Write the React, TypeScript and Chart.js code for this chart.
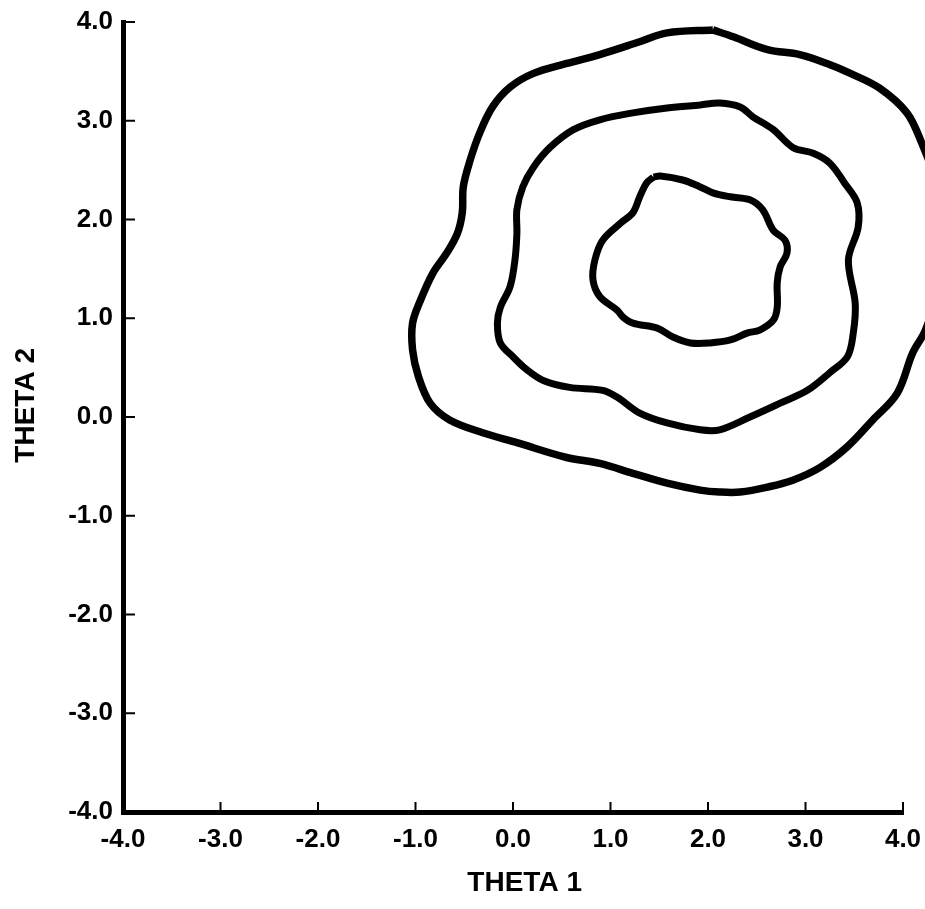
import React, { useEffect, useRef } from "react";
import { Chart, registerables } from "chart.js";

Chart.register(...registerables);

// Axis tick values
const xTicks = [-4, -3, -2, -1, 0, 1, 2, 3, 4];
const yTicks = [-4, -3, -2, -1, 0, 1, 2, 3, 4];
const xTitle = "   THETA 1";
const yTitle = "   THETA 2";

// Outer contour (THETA 1, THETA 2)
const outerX = [2.05, 2.26, 2.61, 2.94, 3.22, 3.46, 3.76, 4.04, 4.19, 4.33, 4.41, 4.39, 4.23, 4.10, 3.94, 3.69, 3.43, 3.15, 2.87, 2.61, 2.33, 2.12, 1.92, 1.58, 1.23, 0.89, 0.55, 0.04, -0.31, -0.65, -0.85, -0.97, -1.03, -1.03, -0.95, -0.82, -0.68, -0.57, -0.52, -0.51, -0.44, -0.34, -0.21, -0.03, 0.21, 0.55, 0.89, 1.30, 1.58, 2.05];
const outerY = [3.92, 3.85, 3.72, 3.67, 3.58, 3.48, 3.33, 3.08, 2.78, 2.40, 1.89, 1.39, 0.88, 0.65, 0.24, -0.03, -0.30, -0.51, -0.64, -0.71, -0.76, -0.76, -0.74, -0.67, -0.57, -0.47, -0.41, -0.26, -0.16, -0.03, 0.14, 0.41, 0.68, 0.95, 1.18, 1.46, 1.66, 1.86, 2.07, 2.33, 2.60, 2.88, 3.14, 3.34, 3.48, 3.58, 3.67, 3.80, 3.89, 3.92];

// Middle contour
const middleX = [1.92, 2.12, 2.33, 2.46, 2.67, 2.87, 3.08, 3.25, 3.40, 3.53, 3.54, 3.44, 3.51, 3.49, 3.43, 3.25, 3.02, 2.74, 2.43, 2.12, 1.92, 1.58, 1.30, 1.07, 0.92, 0.58, 0.31, 0.14, 0.00, -0.13, -0.16, -0.13, -0.03, 0.02, 0.04, 0.04, 0.10, 0.21, 0.38, 0.62, 0.89, 1.23, 1.58, 1.92];
const middleY = [3.16, 3.18, 3.14, 3.04, 2.91, 2.73, 2.67, 2.57, 2.37, 2.17, 1.92, 1.59, 1.15, 0.85, 0.61, 0.45, 0.27, 0.14, 0.00, -0.13, -0.13, -0.06, 0.04, 0.20, 0.27, 0.30, 0.37, 0.48, 0.61, 0.75, 0.95, 1.11, 1.32, 1.59, 1.86, 2.10, 2.33, 2.53, 2.73, 2.91, 3.01, 3.08, 3.13, 3.16];

// Inner contour
const innerX = [1.44, 1.51, 1.74, 1.92, 2.05, 2.23, 2.43, 2.56, 2.67, 2.79, 2.81, 2.74, 2.71, 2.71, 2.67, 2.53, 2.40, 2.23, 2.02, 1.82, 1.64, 1.48, 1.23, 1.13, 1.07, 0.89, 0.82, 0.84, 0.92, 1.10, 1.23, 1.30, 1.37, 1.44];
const innerY = [2.43, 2.44, 2.40, 2.33, 2.27, 2.23, 2.20, 2.10, 1.89, 1.79, 1.66, 1.52, 1.36, 1.11, 0.98, 0.88, 0.85, 0.78, 0.75, 0.75, 0.81, 0.90, 0.95, 1.01, 1.08, 1.22, 1.39, 1.59, 1.79, 1.96, 2.07, 2.23, 2.37, 2.43];

const toPoints = (xs: number[], ys: number[]) => xs.map((x, i) => ({ x, y: ys[i] }));

const FONT = "'Liberation Sans', Arial, Helvetica, sans-serif";

const insideTicks = {
  id: "insideTicks",
  afterDatasetsDraw(chart: any) {
    const { ctx, chartArea, scales } = chart;
    ctx.save();
    ctx.strokeStyle = "#000";
    ctx.lineWidth = 2;
    ctx.beginPath();
    for (const v of xTicks) {
      const px = scales.x.getPixelForValue(v);
      ctx.moveTo(px, chartArea.bottom);
      ctx.lineTo(px, chartArea.bottom - 10);
    }
    for (const v of yTicks) {
      const py = scales.y.getPixelForValue(v);
      ctx.moveTo(chartArea.left, py);
      ctx.lineTo(chartArea.left + 12, py);
    }
    ctx.stroke();
    ctx.restore();
  },
};

export default function App() {
  const ref = useRef<HTMLCanvasElement | null>(null);
  useEffect(() => {
    if (!ref.current) return;
    const line = (xs: number[], ys: number[], w: number) => ({
      data: toPoints(xs, ys),
      showLine: true,
      borderColor: "#000",
      borderWidth: w,
      pointRadius: 0,
      tension: 0.35,
      fill: false,
      clip: false as any,
    });
    const chart = new Chart(ref.current, {
      type: "scatter",
      data: {
        datasets: [
          line(outerX, outerY, 7.5),
          line(middleX, middleY, 7),
          line(innerX, innerY, 7),
        ],
      },
      options: {
        animation: false,
        responsive: false,
        layout: { padding: { top: 22, right: 22, left: 0, bottom: 0 } },
        plugins: { legend: { display: false }, tooltip: { enabled: false } },
        scales: {
          x: {
            type: "linear",
            min: -4,
            max: 4,
            afterBuildTicks: (s: any) => {
              s.ticks = xTicks.map((v) => ({ value: v }));
            },
            afterFit: (s: any) => {
              s.height = 97;
              s.paddingLeft = 0;
              s.paddingRight = 0;
            },
            grid: { display: false, drawTicks: false },
            border: { display: true, color: "#000", width: 5 },
            ticks: {
              color: "#000",
              padding: 12,
              maxRotation: 0,
              autoSkip: false,
              font: { family: FONT, size: 26, weight: "bold" },
              callback: (v: any) => Number(v).toFixed(1),
            },
            title: {
              display: true,
              text: xTitle,
              color: "#000",
              padding: { top: 0, bottom: 9 },
              font: { family: FONT, size: 28, weight: "bold" },
            },
          },
          y: {
            type: "linear",
            min: -4,
            max: 4,
            afterBuildTicks: (s: any) => {
              s.ticks = yTicks.map((v) => ({ value: v }));
            },
            afterFit: (s: any) => {
              s.width = 123;
              s.paddingTop = 0;
              s.paddingBottom = 0;
            },
            grid: { display: false, drawTicks: false },
            border: { display: true, color: "#000", width: 5 },
            ticks: {
              color: "#000",
              padding: 10,
              autoSkip: false,
              font: { family: FONT, size: 26, weight: "bold" },
              callback: (v: any) => Number(v).toFixed(1),
            },
            title: {
              display: true,
              text: yTitle,
              color: "#000",
              padding: { top: 9, bottom: 0 },
              font: { family: FONT, size: 28, weight: "bold" },
            },
          },
        },
      },
      plugins: [insideTicks],
    } as any);
    return () => chart.destroy();
  }, []);
  return (
    <div style={{ position: "fixed", left: 0, top: 0, width: 925, height: 909, background: "#fff" }}>
      <canvas ref={ref} width={925} height={909} style={{ display: "block" }} />
    </div>
  );
}
